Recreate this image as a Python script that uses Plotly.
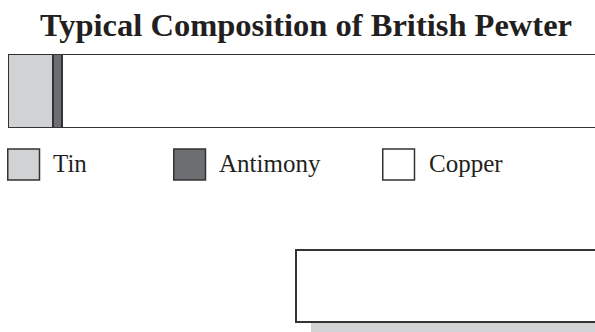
import plotly.graph_objects as go

# Data
metals = ["Tin", "Antimony", "Copper"]
percent = [5, 1, 94]
colors = ["#d1d2d4", "#6d6e71", "#ffffff"]
category = ["Pewter"]

W, H = 595, 332
# plot area in screen coords: x 8..595, y 54..128
L, R, T, B = 8, 0, 54, 332 - 128
pw, ph = W - L - R, H - T - B

def px(x):
    return (x - L) / pw

def py(y):
    return (H - B - y) / ph

fig = go.Figure()
for name, val, col in zip(metals, percent, colors):
    fig.add_trace(go.Bar(
        y=category, x=[val], name=name, orientation="h",
        marker=dict(color=col, line=dict(color="#333333", width=2)),
        width=1, showlegend=False, hoverinfo="name+x",
    ))

shapes = []
annotations = []
# legend
sw_x = [7, 173, 382]
tx_x = [52, 218, 428]
for name, col, sx, tx in zip(metals, colors, sw_x, tx_x):
    shapes.append(dict(type="rect", xref="paper", yref="paper",
                       x0=px(sx + 0.75), x1=px(sx + 32.5), y0=py(149), y1=py(180),
                       fillcolor=col, line=dict(color="#333333", width=1.5)))
    annotations.append(dict(text=name, xref="paper", yref="paper",
                            x=px(tx - 1), y=py(163.5), xanchor="left", yanchor="middle",
                            showarrow=False,
                            font=dict(family="Liberation Serif", size=25, color="#231f20")))

# decorative box with shadow at the bottom right
shapes.append(dict(type="rect", xref="paper", yref="paper",
                   x0=px(311), x1=px(620), y0=py(262), y1=py(340),
                   fillcolor="#d1d2d4", line=dict(width=0), layer="below"))
shapes.append(dict(type="rect", xref="paper", yref="paper",
                   x0=px(296), x1=px(620), y0=py(250), y1=py(322),
                   fillcolor="#ffffff", line=dict(color="#333333", width=2)))

fig.update_layout(
    width=W, height=H,
    margin=dict(l=L, r=R, t=T, b=B),
    paper_bgcolor="white", plot_bgcolor="white",
    barmode="stack",
    title=dict(text="<b>Typical Composition of British Pewter</b>",
               xref="container", x=306 / W, xanchor="center",
               yref="container", y=1 - 25 / H, yanchor="middle",
               font=dict(family="Liberation Serif", size=32.5, color="#231f20")),
    xaxis=dict(range=[0, 65.2], visible=False, fixedrange=True),
    yaxis=dict(range=[-0.5, 0.5], visible=False, fixedrange=True),
    shapes=shapes, annotations=annotations,
)

fig.write_html(
    "out.html",
    config={"displayModeBar": False},
    post_script="document.body.style.margin='0';document.body.style.overflow='hidden';",
)
